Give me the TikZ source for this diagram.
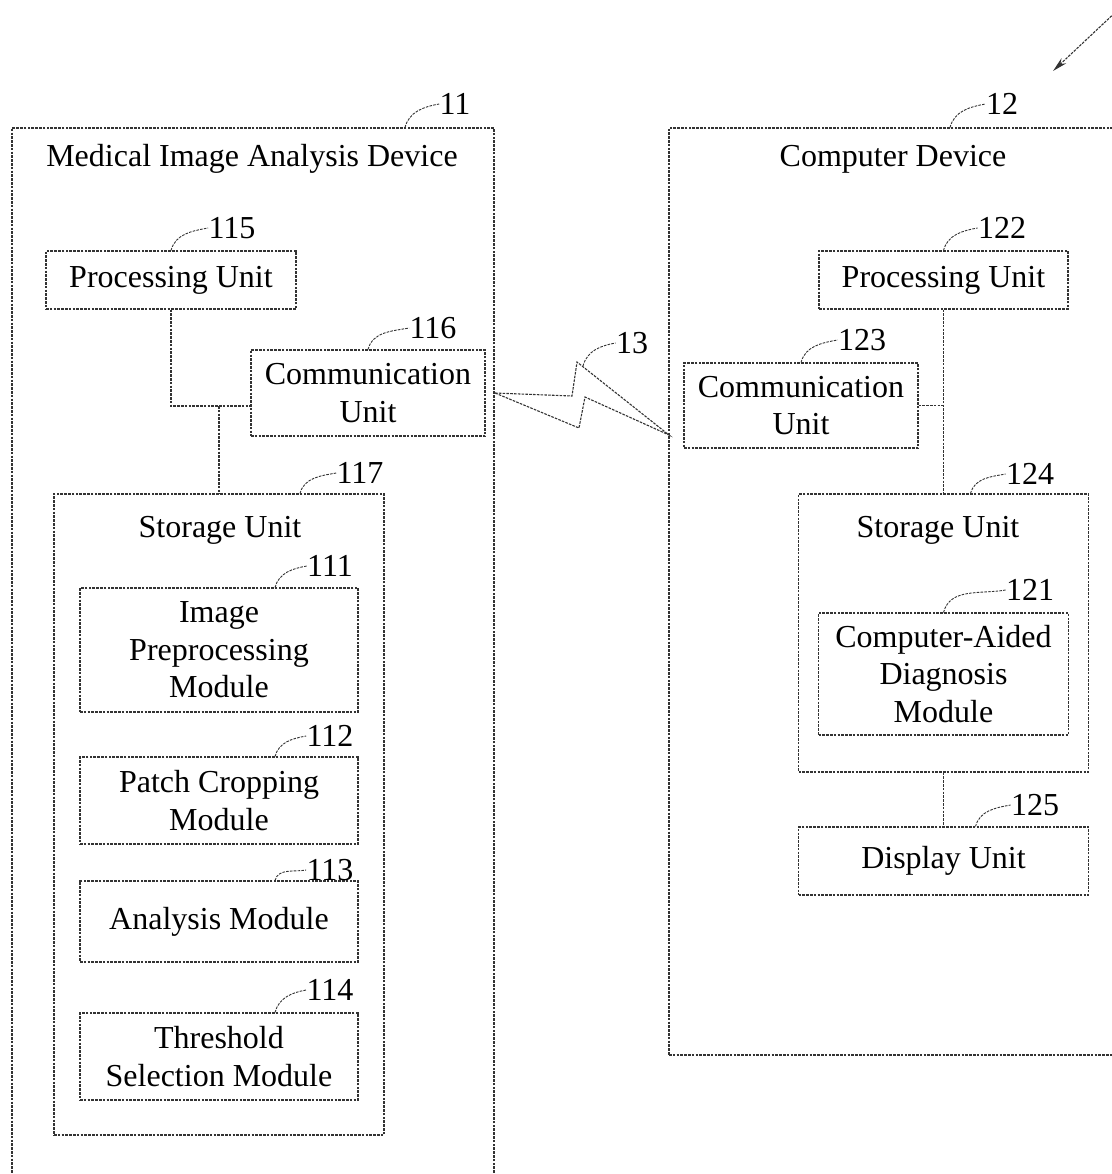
\documentclass[tikz,border=0pt]{standalone}
\usepackage{fontspec}
\setmainfont{Liberation Serif}
\usetikzlibrary{arrows.meta}

\begin{document}
\begin{tikzpicture}
    [
    x=0.5pt, y=-0.5pt,
    font=\fontsize{16}{18.7}\selectfont,
    wire/.style={draw=black!80, line width=0.55pt, dash pattern=on 1.3pt off 0.6pt},
    unit/.style={wire, rectangle, inner sep=0pt, align=center},
    leader/.style={wire, line width=0.45pt},
    refnum/.style={inner sep=0pt}
    ]
    \useasboundingbox (0,0) rectangle (1112,1174);
    \clip (0,0) rectangle (1112,1174);

    % medical image analysis device (11)
    \node (dev1) at (253,664) [unit,minimum width=241pt,minimum height=536pt] {};
    \node (dev1title) at (252,159) {Medical Image Analysis Device};
    \node (pu1) at (171,280) [unit,minimum width=125pt,minimum height=29pt] {Processing Unit};
    \node (comm1) at (368,393) [unit,minimum width=117pt,minimum height=43pt] {Communication\\Unit};
    \node (store1) at (219,814.5) [unit,minimum width=165pt,minimum height=320.5pt] {};
    \node (store1title) at (220,530) {Storage Unit};
    \node (prep) at (219,650) [unit,minimum width=139pt,minimum height=62pt] {Image\\Preprocessing\\Module};
    \node (crop) at (219,800.5) [unit,minimum width=139pt,minimum height=43.5pt] {Patch Cropping\\Module};
    \node (anal) at (219,921.5) [unit,minimum width=139pt,minimum height=40.5pt] {Analysis Module};
    \node (thre) at (219,1056.5) [unit,minimum width=139pt,minimum height=43.5pt] {Threshold\\Selection Module};

    \coordinate (j1) at (219,406);
    \draw [wire] (pu1.south) |- ([yshift=-6.5pt]comm1.west);
    \draw [wire] (j1) -- (store1.north);

    % computer device (12)
    \node (dev2) at (904.5,591.5) [unit,minimum width=235.5pt,minimum height=463.5pt] {};
    \node (dev2title) at (893,159) {Computer Device};
    \node (pu2) at (943.5,280) [unit,minimum width=124.5pt,minimum height=29pt] {Processing Unit};
    \node (comm2) at (801,405.5) [unit,minimum width=117pt,minimum height=42.5pt] {Communication\\Unit};
    \node (store2) at (943.5,633) [unit,minimum width=145pt,minimum height=139pt] {};
    \node (store2title) at (938,530) {Storage Unit};
    \node (cad) at (943.5,674) [unit,minimum width=125pt,minimum height=61pt] {Computer-Aided\\Diagnosis\\Module};
    \node (disp) at (943.5,861) [unit,minimum width=145pt,minimum height=34pt] {Display Unit};

    \draw [wire] (pu2.south) -- (store2.north);
    \draw [wire] (comm2.east) -- (comm2.east -| pu2.south);
    \draw [wire] (store2.south) -- (disp.north);

    % wireless link (13)
    \coordinate (bolt1) at (495,393);
    \coordinate (bolt2) at (669,435);
    \draw [wire] (bolt1) -- (572,396) -- (577,362) -- (bolt2) -- (585,397) -- (579,428) -- cycle;

    % system arrow
    \coordinate (sysref) at (1120,8);
    \coordinate (systip) at (1053,71);
    \draw [wire, -{Stealth[length=7.5pt,width=3.5pt]}] (sysref) -- (systip);

    % reference numerals
    \node (n11) at (455,104) [refnum] {11};
    \node (n12) at (1002,104) [refnum] {12};
    \node (n13) at (632,343) [refnum] {13};
    \node (n115) at (232,228) [refnum] {115};
    \node (n116) at (433,328) [refnum] {116};
    \node (n117) at (360,473) [refnum] {117};
    \node (n111) at (330,566) [refnum] {111};
    \node (n112) at (330,736) [refnum] {112};
    \node (n113) at (330,870) [refnum] {113};
    \node (n114) at (330,990) [refnum] {114};
    \node (n122) at (1002,228) [refnum] {122};
    \node (n123) at (862,340) [refnum] {123};
    \node (n124) at (1030,474) [refnum] {124};
    \node (n121) at (1030,590) [refnum] {121};
    \node (n125) at (1035,805) [refnum] {125};

    \draw [leader] ([xshift=76pt]dev1.north) to[out=75,in=190] (n11.west);
    \draw [leader] ([xshift=22.75pt]dev2.north) to[out=75,in=190] (n12.west);
    \draw [leader] (583,366) to[out=75,in=190] (n13.west);
    \draw [leader] (pu1.north) to[out=75,in=190] (n115.west);
    \draw [leader] (comm1.north) to[out=75,in=190] (n116.west);
    \draw [leader] ([xshift=40.5pt]store1.north) to[out=75,in=190] (n117.west);
    \draw [leader] ([xshift=28pt]prep.north) to[out=75,in=190] (n111.west);
    \draw [leader] ([xshift=28pt]crop.north) to[out=75,in=190] (n112.west);
    \draw [leader] ([xshift=28pt]anal.north) to[out=75,in=190] (n113.west);
    \draw [leader] ([xshift=28pt]thre.north) to[out=75,in=190] (n114.west);
    \draw [leader] (pu2.north) to[out=75,in=190] (n122.west);
    \draw [leader] (comm2.north) to[out=75,in=190] (n123.west);
    \draw [leader] ([xshift=13.5pt]store2.north) to[out=75,in=190] (n124.west);
    \draw [leader] (cad.north) to[out=75,in=190] (n121.west);
    \draw [leader] ([xshift=16pt]disp.north) to[out=75,in=190] (n125.west);
\end{tikzpicture}
\end{document}
